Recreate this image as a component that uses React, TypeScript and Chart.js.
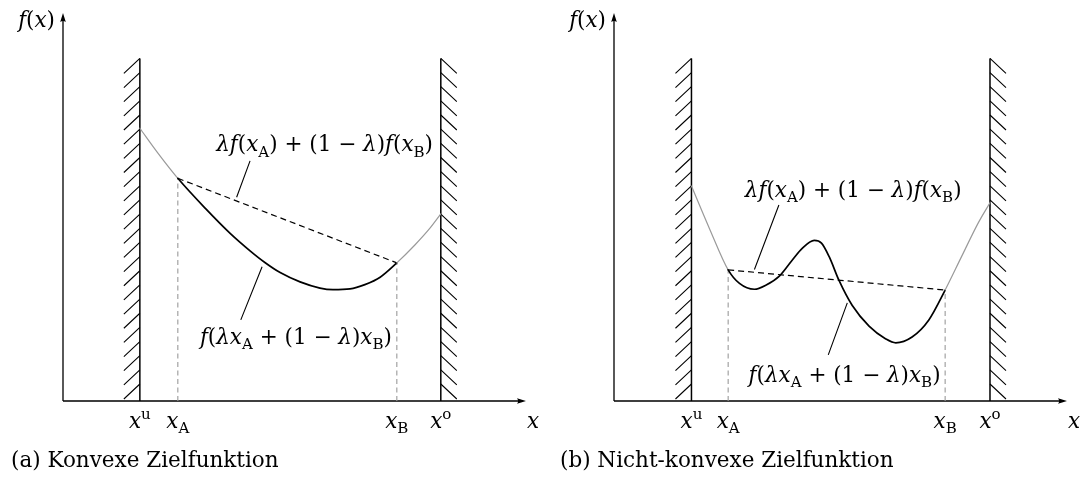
import React, { useEffect, useRef } from "react";
import { Chart, registerables } from "chart.js";

Chart.register(...registerables);

// Convex objective f(x) on [x^u, x^o]
const convexX = [1.66, 2.05, 2.48, 3.07, 3.61, 4.04, 4.36, 4.69, 5.12, 5.55, 5.83, 6.2, 6.52, 6.85, 7.21, 7.6, 7.93, 8.16];
const convexY = [7.03, 6.39, 5.74, 4.97, 4.32, 3.87, 3.57, 3.31, 3.07, 2.91, 2.87, 2.89, 3.0, 3.19, 3.56, 4.02, 4.46, 4.82];

// Non-convex objective f(x) on [x^u, x^o]
const nonconvexX = [1.71, 2.12, 2.52, 2.77, 3.1, 3.36, 3.65, 3.92, 4.16, 4.42, 4.58, 4.75, 4.97, 5.26, 5.63, 6.0, 6.22, 6.58, 6.95, 7.31, 7.68, 8.05, 8.3];
const nonconvexY = [5.54, 4.41, 3.38, 3.03, 2.88, 2.99, 3.22, 3.61, 3.94, 4.14, 4.07, 3.72, 3.1, 2.46, 1.93, 1.6, 1.5, 1.65, 2.09, 2.86, 3.74, 4.61, 5.11];

// Marked abscissae: x^u, x_A, x_B, x^o
const convexMarks = [1.66, 2.48, 7.21, 8.16];
const nonconvexMarks = [1.71, 2.52, 7.31, 8.3];

// Height of the bound walls
const wallTop = 8.83;

type Seg = { t: string; i?: boolean; s?: "sub" | "sup" };

const markLabels: Seg[][] = [
  [{ t: "x", i: true }, { t: "u", s: "sup" }],
  [{ t: "x", i: true }, { t: "A", s: "sub" }],
  [{ t: "x", i: true }, { t: "B", s: "sub" }],
  [{ t: "x", i: true }, { t: "o", s: "sup" }],
];

const chordLabel: Seg[] = [
  { t: "λ", i: true }, { t: "f", i: true }, { t: "(" }, { t: "x", i: true }, { t: "A", s: "sub" },
  { t: ") + (1 − " }, { t: "λ", i: true }, { t: ")" }, { t: "f", i: true }, { t: "(" },
  { t: "x", i: true }, { t: "B", s: "sub" }, { t: ")" },
];

const funcLabel: Seg[] = [
  { t: "f", i: true }, { t: "(" }, { t: "λ", i: true }, { t: "x", i: true }, { t: "A", s: "sub" },
  { t: " + (1 − " }, { t: "λ", i: true }, { t: ")" }, { t: "x", i: true }, { t: "B", s: "sub" }, { t: ")" },
];

const yAxisLabel: Seg[] = [{ t: "f", i: true }, { t: "(" }, { t: "x", i: true }, { t: ")" }];
const xAxisLabel: Seg[] = [{ t: "x", i: true }];

const FONT = '"DejaVu Serif", serif';
const GRAY = "#9a9a9a";
const TEXT = 21.5;

type Panel = {
  xs: number[];
  ys: number[];
  marks: number[];
  caption: string;
  captionX: number;
  padding: { left: number; right: number; top: number; bottom: number };
  chordAt: [number, number];
  funcAt: [number, number];
  chordLeader: [number, number][];
  funcLeader: [number, number][];
};

const panelA: Panel = {
  xs: convexX,
  ys: convexY,
  marks: convexMarks,
  caption: "(a) Konvexe Zielfunktion",
  captionX: 11,
  padding: { left: 63, right: 14, top: 13, bottom: 76 },
  chordAt: [5.65, 6.44],
  funcAt: [5.03, 1.47],
  chordLeader: [[4.04, 6.19], [3.75, 5.25]],
  funcLeader: [[4.3, 3.46], [3.84, 2.09]],
};

const panelB: Panel = {
  xs: nonconvexX,
  ys: nonconvexY,
  marks: nonconvexMarks,
  caption: "(b) Nicht-konvexe Zielfunktion",
  captionX: 20,
  padding: { left: 74, right: 14, top: 13, bottom: 76 },
  chordAt: [5.28, 5.26],
  funcAt: [5.09, 0.5],
  chordLeader: [[3.64, 5.05], [3.1, 3.39]],
  funcLeader: [[5.15, 2.53], [4.73, 1.19]],
};

function drawRich(ctx: CanvasRenderingContext2D, segs: Seg[], x: number, y: number, size: number, align: "left" | "center" | "right") {
  const items = segs.map((sg) => {
    const fs = sg.s ? size * 0.7 : size;
    const font = `${sg.i ? "italic " : ""}${fs}px ${FONT}`;
    ctx.font = font;
    const w = ctx.measureText(sg.t).width;
    const dy = sg.s === "sub" ? size * 0.25 : sg.s === "sup" ? -size * 0.42 : 0;
    return { t: sg.t, font, w, dy };
  });
  const total = items.reduce((a, b) => a + b.w, 0);
  let cx = align === "left" ? x : align === "center" ? x - total / 2 : x - total;
  ctx.textAlign = "left";
  ctx.textBaseline = "alphabetic";
  ctx.fillStyle = "#000";
  for (const it of items) {
    ctx.font = it.font;
    ctx.fillText(it.t, cx, y + it.dy);
    cx += it.w;
  }
}

function arrowHead(ctx: CanvasRenderingContext2D, tx: number, ty: number, dx: number, dy: number) {
  const len = 9;
  const half = 2.8;
  const bx = tx - dx * len;
  const by = ty - dy * len;
  ctx.beginPath();
  ctx.moveTo(tx, ty);
  ctx.lineTo(bx - dy * half, by + dx * half);
  ctx.quadraticCurveTo(tx - dx * len * 0.75, ty - dy * len * 0.75, bx + dy * half, by - dx * half);
  ctx.closePath();
  ctx.fillStyle = "#000";
  ctx.fill();
}

function makeDecor(p: Panel) {
  return {
    id: "panelDecor",
    beforeDatasetsDraw(chart: any) {
      const ctx: CanvasRenderingContext2D = chart.ctx;
      const sx = chart.scales.x;
      const sy = chart.scales.y;
      const x0 = sx.getPixelForValue(0);
      const y0 = sy.getPixelForValue(0);
      const xEnd = sx.getPixelForValue(10);
      const yEnd = sy.getPixelForValue(10);

      // make sure the curve's spline control points are in place
      const meta = chart.getDatasetMeta(0);
      if (meta.dataset && meta.dataset.updateControlPoints) meta.dataset.updateControlPoints(chart.chartArea, "x");

      ctx.save();
      ctx.strokeStyle = "#000";
      ctx.lineWidth = 1.3;
      ctx.beginPath();
      ctx.moveTo(x0, y0);
      ctx.lineTo(x0, yEnd + 6);
      ctx.moveTo(x0, y0);
      ctx.lineTo(xEnd - 6, y0);
      ctx.stroke();
      arrowHead(ctx, x0, yEnd, 0, -1);
      arrowHead(ctx, xEnd, y0, 1, 0);

      // hatching on the outer side of both bound walls
      const top = sy.getPixelForValue(wallTop);
      const step = (y0 - top) / 24.2;
      ctx.lineWidth = 1.1;
      ctx.beginPath();
      [p.marks[0], p.marks[3]].forEach((mx, w) => {
        const wx = sx.getPixelForValue(mx);
        const dir = w === 0 ? -1 : 1;
        for (let k = 0; ; k++) {
          const yk = top + k * step;
          const d = Math.min(15, y0 - yk);
          if (d < 4) break;
          ctx.moveTo(wx, yk);
          ctx.lineTo(wx + dir * d * (16 / 15), yk + d);
        }
      });
      ctx.stroke();
      ctx.restore();
    },
    afterDatasetsDraw(chart: any) {
      const ctx: CanvasRenderingContext2D = chart.ctx;
      const sx = chart.scales.x;
      const sy = chart.scales.y;
      const px = (v: number) => sx.getPixelForValue(v);
      const py = (v: number) => sy.getPixelForValue(v);
      const x0 = px(0);
      const y0 = py(0);
      ctx.save();
      ctx.strokeStyle = "#000";
      ctx.lineWidth = 1.1;
      ctx.beginPath();
      [p.chordLeader, p.funcLeader].forEach((l) => {
        ctx.moveTo(px(l[0][0]), py(l[0][1]));
        ctx.lineTo(px(l[1][0]), py(l[1][1]));
      });
      ctx.stroke();

      drawRich(ctx, chordLabel, px(p.chordAt[0]), py(p.chordAt[1]), TEXT, "center");
      drawRich(ctx, funcLabel, px(p.funcAt[0]), py(p.funcAt[1]), TEXT, "center");

      p.marks.forEach((m, i) => drawRich(ctx, markLabels[i], px(m), y0 + 27, TEXT, "center"));
      drawRich(ctx, xAxisLabel, px(10) + 7, y0 + 27, TEXT, "center");
      drawRich(ctx, yAxisLabel, x0 - 8, py(10) + 14, TEXT, "right");

      ctx.font = `${TEXT}px ${FONT}`;
      ctx.fillStyle = "#000";
      ctx.textAlign = "left";
      ctx.textBaseline = "alphabetic";
      ctx.fillText(p.caption, p.captionX, chart.height - 10);
      ctx.restore();
    },
  };
}

function buildConfig(p: Panel): any {
  const [xU, xA, xB, xO] = p.marks;
  const pts = p.xs.map((x, i) => ({ x, y: p.ys[i] }));
  const fAt = (x: number) => p.ys[p.xs.indexOf(x)];
  const inside = (i0: number, i1: number) => p.xs[i0] >= xA - 1e-9 && p.xs[i1] <= xB + 1e-9;
  const line = { pointRadius: 0, fill: false, clip: false, tension: 0 };
  return {
    type: "line",
    data: {
      datasets: [
        {
          ...line,
          data: pts,
          cubicInterpolationMode: "monotone",
          borderColor: GRAY,
          borderWidth: 1.2,
          borderCapStyle: "round",
          segment: {
            borderColor: (c: any) => (inside(c.p0DataIndex, c.p1DataIndex) ? "#000" : GRAY),
            borderWidth: (c: any) => (inside(c.p0DataIndex, c.p1DataIndex) ? 1.7 : 1.2),
          },
        },
        {
          ...line,
          data: [{ x: xA, y: fAt(xA) }, { x: xB, y: fAt(xB) }],
          borderColor: "#000",
          borderWidth: 1.2,
          borderDash: [6, 4],
        },
        {
          ...line,
          data: [{ x: xA, y: 0 }, { x: xA, y: fAt(xA) }],
          borderColor: GRAY,
          borderWidth: 1.1,
          borderDash: [5, 3.5],
        },
        {
          ...line,
          data: [{ x: xB, y: 0 }, { x: xB, y: fAt(xB) }],
          borderColor: GRAY,
          borderWidth: 1.1,
          borderDash: [5, 3.5],
        },
        {
          ...line,
          data: [{ x: xU, y: 0 }, { x: xU, y: wallTop }],
          borderColor: "#000",
          borderWidth: 1.5,
        },
        {
          ...line,
          data: [{ x: xO, y: 0 }, { x: xO, y: wallTop }],
          borderColor: "#000",
          borderWidth: 1.5,
        },
      ],
    },
    options: {
      animation: false,
      responsive: false,
      maintainAspectRatio: false,
      devicePixelRatio: 1,
      events: [],
      parsing: false,
      layout: { padding: p.padding },
      scales: {
        x: { type: "linear", min: 0, max: 10, display: false },
        y: { type: "linear", min: 0, max: 10, display: false },
      },
      plugins: { legend: { display: false }, tooltip: { enabled: false } },
    },
    plugins: [makeDecor(p)],
  };
}

export default function App() {
  const refA = useRef<HTMLCanvasElement>(null);
  const refB = useRef<HTMLCanvasElement>(null);
  useEffect(() => {
    document.body.style.margin = "0";
    const a = new Chart(refA.current as HTMLCanvasElement, buildConfig(panelA));
    const b = new Chart(refB.current as HTMLCanvasElement, buildConfig(panelB));
    return () => {
      a.destroy();
      b.destroy();
    };
  }, []);
  return (
    <div style={{ display: "flex", width: 1081, height: 477, background: "#fff" }}>
      <canvas ref={refA} width={540} height={477} style={{ width: 540, height: 477, display: "block" }} />
      <canvas ref={refB} width={541} height={477} style={{ width: 541, height: 477, display: "block" }} />
    </div>
  );
}
